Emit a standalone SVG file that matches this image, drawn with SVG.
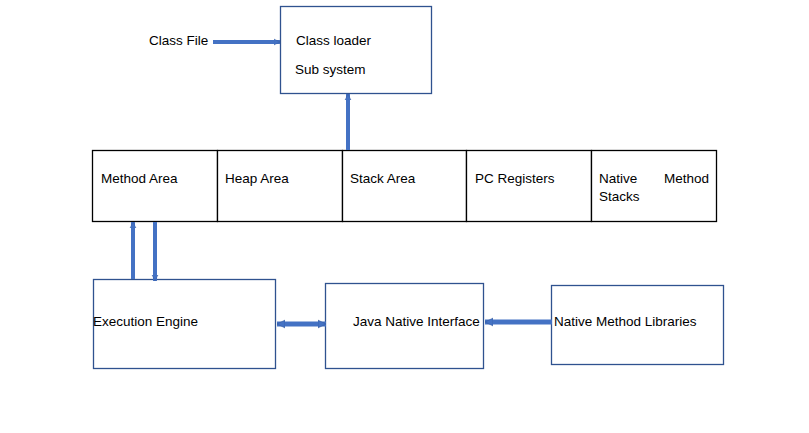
<svg xmlns="http://www.w3.org/2000/svg" width="809" height="433" viewBox="0 0 809 433">
<style>
.box{fill:#fff;stroke:#2F528F;stroke-width:1.3}
.cell{fill:#fff;stroke:#000;stroke-width:1.3}
.t{font-family:"Liberation Sans",Arial,sans-serif;font-size:13.5px;fill:#000}
.c{stroke:#4472C4;stroke-width:4;fill:none}
.cw{stroke:#4472C4;stroke-width:5;fill:none}
</style>
<defs>
<marker id="ah" viewBox="0 0 10 10" refX="10" refY="5" markerWidth="1.6" markerHeight="2.2" orient="auto-start-reverse" markerUnits="strokeWidth">
<path d="M0,0 L10,5 L0,10 z" fill="#4472C4" stroke="#2F528F" stroke-width="0.5"/>
</marker>
</defs>
<rect width="809" height="433" fill="#fff"/>
<g id="class-file"><text class="t" x="149" y="45">Class File</text></g>
<g id="class-loader">
<rect class="box" x="280.5" y="6.5" width="151" height="87"/>
<text class="t" x="296" y="45">Class loader</text>
<text class="t" x="295" y="74">Sub system</text>
</g>
<g id="runtime-data-areas">
<g id="method-area"><rect class="cell" x="92.5" y="150.5" width="125" height="71"/><text class="t" x="101" y="183">Method Area</text></g>
<g id="heap-area"><rect class="cell" x="217.5" y="150.5" width="125" height="71"/><text class="t" x="225" y="183">Heap Area</text></g>
<g id="stack-area"><rect class="cell" x="342.5" y="150.5" width="124" height="71"/><text class="t" x="350" y="183">Stack Area</text></g>
<g id="pc-registers"><rect class="cell" x="466.5" y="150.5" width="125" height="71"/><text class="t" x="475" y="183">PC Registers</text></g>
<g id="native-method-stacks"><rect class="cell" x="591.5" y="150.5" width="125" height="71"/><text class="t" x="599" y="183">Native</text><text class="t" x="709" y="183" text-anchor="end">Method</text><text class="t" x="599" y="201">Stacks</text></g>
</g>
<g id="execution-engine"><rect class="box" x="93.5" y="279.5" width="182" height="89"/><text class="t" x="93" y="326">Execution Engine</text></g>
<g id="jni"><rect class="box" x="325.5" y="283.5" width="158" height="85"/><text class="t" x="353" y="326">Java Native Interface</text></g>
<g id="native-method-libraries"><rect class="box" x="551.5" y="285.5" width="172" height="79"/><text class="t" x="554" y="326">Native Method Libraries</text></g>
<g id="connectors">
<line class="c" x1="213" y1="42" x2="280" y2="42" marker-end="url(#ah)"/>
<line class="c" x1="348" y1="150" x2="348" y2="94" marker-end="url(#ah)"/>
<line class="c" x1="133" y1="279" x2="133" y2="222" marker-end="url(#ah)"/>
<line class="c" x1="155" y1="222" x2="155" y2="281" marker-end="url(#ah)"/>
<line class="cw" x1="277" y1="324" x2="326" y2="324" marker-start="url(#ah)" marker-end="url(#ah)"/>
<line class="cw" x1="552" y1="322" x2="485" y2="322" marker-end="url(#ah)"/>
</g>
</svg>
